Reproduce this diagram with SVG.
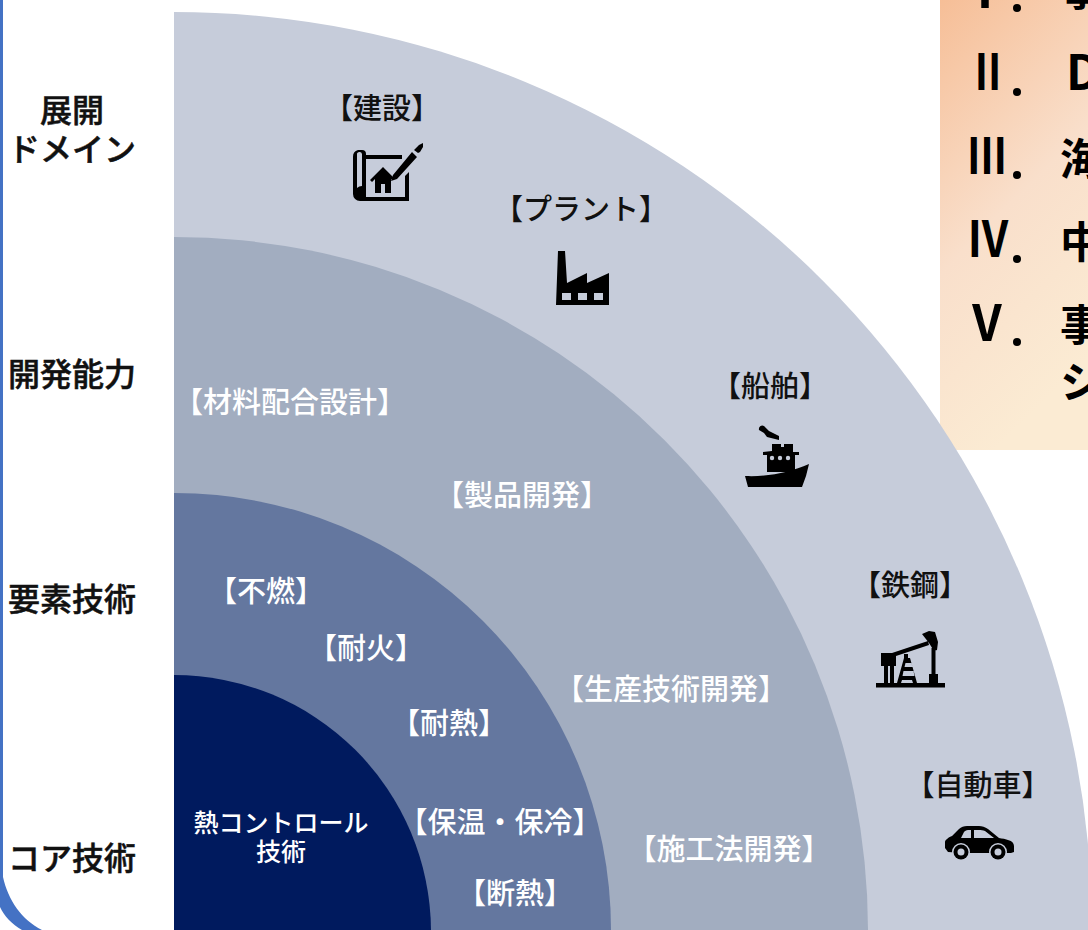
<svg xmlns="http://www.w3.org/2000/svg" width="1088" height="930" viewBox="0 0 1088 930">
<style>
text{font-family:"Noto Sans CJK JP","Noto Sans",sans-serif;text-anchor:middle}
.d{font-size:29px;fill:#111;font-weight:500}
.w{font-size:29px;fill:#fff;font-weight:500}
.c{font-size:25px;fill:#fff;font-weight:500}
.h{font-size:32px;fill:#111;font-weight:500;stroke:#111;stroke-width:.5}
.p{font-size:43px;fill:#000;font-weight:700;text-anchor:start}
.n{font-size:50px;fill:#000;font-weight:700}
.i{fill:#000}
.b{fill:#C6CCDA}
</style>
<defs>
<linearGradient id="g" x1="0" y1="0" x2="0.35" y2="1">
<stop offset="0" stop-color="#F6BD95"/><stop offset="0.55" stop-color="#F9DFCB"/><stop offset="1" stop-color="#FBEBD3"/>
</linearGradient>
</defs>
<rect width="1088" height="930" fill="#fff"/>
<g id="frame"><path d="M0 -5H3V877C8 900 22 920 42 930H22C12 924 4 916 0 907Z" fill="#4472C4"/></g>
<g id="panel">
<rect x="940" y="-10" width="160" height="460" fill="url(#g)"/>
<text class="n" transform="translate(985 8)">Ⅰ</text><circle cx="1017" cy="8" r="4"/><text class="p" x="1061" y="6">事</text>
<text class="n" transform="translate(988 90) scale(.8 1)">Ⅱ</text><circle cx="1017" cy="92" r="4"/><text class="n" style="text-anchor:start;font-size:48px" x="1066" y="90">D</text>
<text class="n" transform="translate(987 174) scale(.8 1)">Ⅲ</text><circle cx="1017" cy="175" r="4"/><text class="p" x="1060" y="175">海</text>
<text class="n" transform="translate(988 257) scale(.85 1)">Ⅳ</text><circle cx="1017" cy="259" r="4"/><text class="p" x="1060" y="258">中</text>
<text class="n" transform="translate(987 341) scale(.95 1)">Ⅴ</text><circle cx="1017" cy="342" r="4"/><text class="p" x="1060" y="341">事</text>
<text class="p" x="1060" y="398">シ</text>
</g>
<g id="arcs">
<path d="M174 12A918 918 0 0 1 1092 930H174Z" fill="#C6CCDA"/>
<path d="M174 237A694 694 0 0 1 868 930H174Z" fill="#A2ADC0"/>
<path d="M174 493A437 437 0 0 1 611 930H174Z" fill="#64779F"/>
<path d="M174 675A257 257 0 0 1 431 930H174Z" fill="#001A5E"/>
</g>
<g id="axis-labels">
<text class="h" x="72" y="122">展開</text>
<text class="h" x="72" y="161">ドメイン</text>
<text class="h" x="72" y="386">開発能力</text>
<text class="h" x="72" y="611">要素技術</text>
<text class="h" x="72" y="870">コア技術</text>
</g>
<g id="domain-kensetsu"><text class="d" x="382" y="119">【建設】</text>
<g class="i"><path fill-rule="evenodd" d="M358 150h4a4 4 0 0 1 4 4v1h36v4h-36v38h39v-21l4-4v29h-49a7 7 0 0 1-7-7v-37a7 7 0 0 1 5-7zM357 155v33a7 7 0 0 1 5-2v-32a2 2 0 0 0-5 1z"/><path d="M375 193v-14l-3 3-2-2 13-13 11 11-1 2-2-1v14h-6v-9h-4v9z"/><path d="M393 175l-2 6 6-2 20-22-5-5zM414 150l5-5 4-2v4l-3 5-2 1z"/></g></g>
<g id="domain-plant"><text class="d" x="581" y="220">【プラント】</text>
<path class="i" d="M558 251h7l2 32 20-10v10l22-10v32h-53z"/><rect x="562" y="293" width="9" height="7" class="b"/><rect x="578" y="293" width="9" height="7" class="b"/><rect x="594" y="293" width="9" height="7" class="b"/></g>
<g id="domain-ship"><text class="d" x="770" y="397">【船舶】</text>
<g class="i"><path d="M759 430a3.500 3.500 0 0 1 5-4l5 5 10 5v4l-12-3-3-4z"/><path d="M772 451v-7h9v3h3v-3h9v8h6v3h-4v17h-28v-17h-4v-3z"/><path d="M745 476c25 1 45-4 64-12l-3 12-4 11h-54z"/></g><circle cx="772" cy="458" r="2.200" class="b"/><circle cx="780" cy="458" r="2.200" class="b"/><circle cx="788" cy="458" r="2.200" class="b"/></g>
<g id="domain-steel"><text class="d" x="910" y="596">【鉄鋼】</text>
<g class="i"><path d="M876 683h69v4.500h-69z"/><path d="M881 653h15v13h-2v17h-4v-17h-2v17h-4v-17h-3z"/><path d="M892 653l36-12 1 4-36 12z"/><path d="M922 634l7-3 6 1 3 10-1 8-3 1-5-8zM931.500 648h4v27h-4zM929 674h9v9h-9z"/><path d="M904 654h4v4h2l7 25h-4l-1-3h-10l-1 3h-4l7-25h0zM905.500 663l-1 4h8l-1-4zM903.500 671l-1 5h12l-1-5z"/></g></g>
<g id="domain-car"><text class="d" x="978" y="796">【自動車】</text>
<path class="i" fill-rule="evenodd" d="M945 848v-6c0-2 4-5 7-6l7-7c2-2 5-3 8-3h12c3 0 6 1 9 3l11 9c6 1 15 2 15 8v6l-3 1h-48l-15-1zM961 838h10v-8h-3c-2 0-3 1-4 2zM974 830v8h20l-9-7c-2-1-4-1-6-1z"/><circle cx="961" cy="852" r="9" class="b"/><circle cx="998" cy="852" r="9" class="b"/><circle cx="961" cy="852" r="7.500"/><circle cx="998" cy="852" r="7.500"/><circle cx="961" cy="852" r="3.500" class="b"/><circle cx="998" cy="852" r="3.500" class="b"/></g>
<g id="ability">
<text class="w" x="290" y="413">【材料配合設計】</text>
<text class="w" x="522" y="506">【製品開発】</text>
<text class="w" x="671" y="700">【生産技術開発】</text>
<text class="w" x="729" y="860">【施工法開発】</text>
</g>
<g id="element">
<text class="w" x="266" y="602">【不燃】</text>
<text class="w" x="366" y="659">【耐火】</text>
<text class="w" x="449" y="734">【耐熱】</text>
<text class="w" x="500" y="833">【保温・保冷】</text>
<text class="w" x="515" y="904">【断熱】</text>
</g>
<g id="core">
<text class="c" x="281" y="832">熱コントロール</text>
<text class="c" x="281" y="861">技術</text>
</g>
</svg>
